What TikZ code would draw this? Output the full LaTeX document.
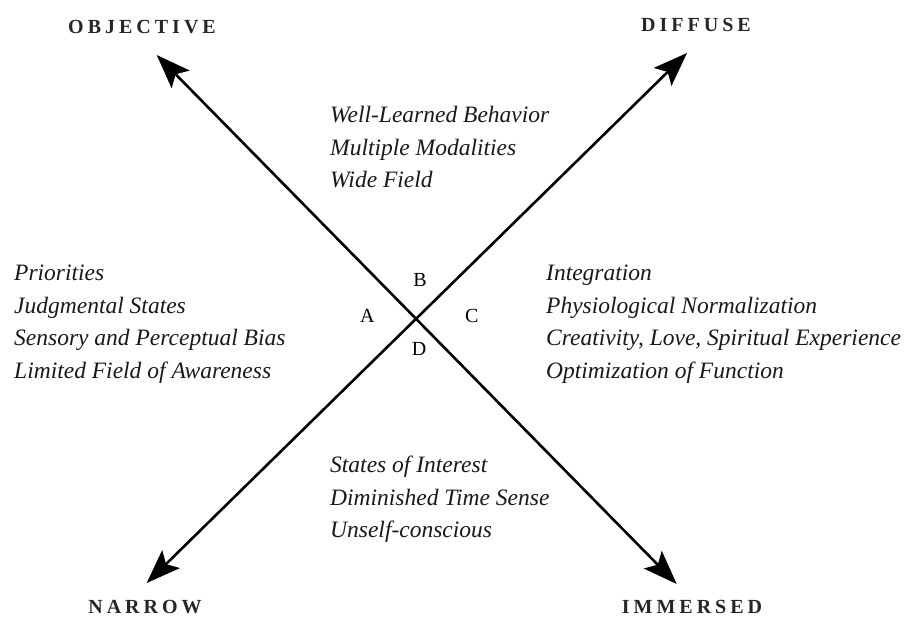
\documentclass[tikz,border=0pt]{standalone}
\usepackage{fontspec}
\setmainfont{Liberation Serif}
\newfontfamily\headfont[LetterSpace=20]{Liberation Serif}
\usetikzlibrary{arrows.meta}
\begin{document}
\begin{tikzpicture}[x=1pt,y=-1pt,
  axis/.style={line width=2.6pt,{Stealth[length=34pt,width=25pt,inset=7pt]}-{Stealth[length=34pt,width=25pt,inset=7pt]}},
  head/.style={font=\fontsize{20}{22}\selectfont\headfont\bfseries, text=black!85, inner sep=0pt},
  quad/.style={font=\fontsize{20}{24}\selectfont, inner sep=0pt},
  block/.style={font=\fontsize{23.5}{32.5}\selectfont\itshape, align=left, anchor=north west, inner sep=0pt, text=black!90}]
\useasboundingbox (0,0) rectangle (910,618);
\coordinate (tl) at (156.7,55);
\coordinate (br) at (676.7,584);
\coordinate (tr) at (687,53);
\coordinate (bl) at (146.7,583);
\draw[axis] (tl) -- (br);
\draw[axis] (bl) -- (tr);
\node[head] (obj) at (142,27) {OBJECTIVE};
\node[head] (dif) at (696,25) {DIFFUSE};
\node[head] (nar) at (145,607) {NARROW};
\node[head] (imm) at (692,607) {IMMERSED};
\node[quad] (qa) at (367.3,316) {A};
\node[quad] (qb) at (420,280) {B};
\node[quad] (qc) at (471.7,316) {C};
\node[quad] (qd) at (419,349.3) {D};
\node[block] (top) at (330,106) {Well-Learned Behavior\\Multiple Modalities\\Wide Field};
\node[block] (left) at (14,265) {Priorities\\Judgmental States\\Sensory and Perceptual Bias\\Limited Field of Awareness};
\node[block] (right) at (546,265) {Integration\\Physiological Normalization\\Creativity, Love, Spiritual Experience\\Optimization of Function};
\node[block] (bot) at (330,456) {States of Interest\\Diminished Time Sense\\Unself-conscious};
\end{tikzpicture}
\end{document}
